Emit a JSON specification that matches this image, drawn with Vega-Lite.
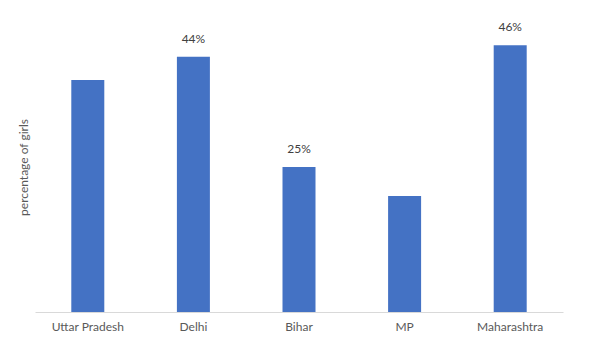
{
  "$schema": "https://vega.github.io/schema/vega-lite/v6.json",
  "width": 528,
  "height": 290,
  "autosize": {"type": "none"},
  "padding": {"left": 35, "top": 22, "right": 41, "bottom": 38},
  "background": "white",
  "data": {
    "values": [
      {"state": "Uttar Pradesh", "pct": 0.40, "label": ""},
      {"state": "Delhi", "pct": 0.44, "label": "44%"},
      {"state": "Bihar", "pct": 0.25, "label": "25%"},
      {"state": "MP", "pct": 0.20, "label": ""},
      {"state": "Maharashtra", "pct": 0.46, "label": "46%"}
    ]
  },
  "encoding": {
    "x": {
      "field": "state",
      "type": "nominal",
      "sort": null,
      "scale": {"paddingInner": 0.6875, "paddingOuter": 0.34375},
      "axis": {
        "title": null,
        "labelAngle": 0,
        "ticks": false,
        "tickSize": 0,
        "labelPadding": 9,
        "domainColor": "#d9d9d9",
        "labelColor": "#595959",
        "labelFont": "Lato",
        "labelFontSize": 12
      }
    },
    "y": {
      "field": "pct",
      "type": "quantitative",
      "scale": {"domain": [0, 0.5], "nice": false},
      "axis": {
        "title": "percentage of girls",
        "labels": false,
        "ticks": false,
        "domain": false,
        "grid": false,
        "titlePadding": 5,
        "titleColor": "#595959",
        "titleFont": "Lato",
        "titleFontSize": 12,
        "titleFontWeight": "normal"
      }
    }
  },
  "layer": [
    {"mark": {"type": "bar", "color": "#4472C4"}},
    {
      "mark": {"type": "text", "dy": -11, "baseline": "bottom", "font": "Lato", "fontSize": 12, "color": "#404040"},
      "encoding": {"text": {"field": "label"}}
    }
  ],
  "config": {"view": {"stroke": null}}
}
